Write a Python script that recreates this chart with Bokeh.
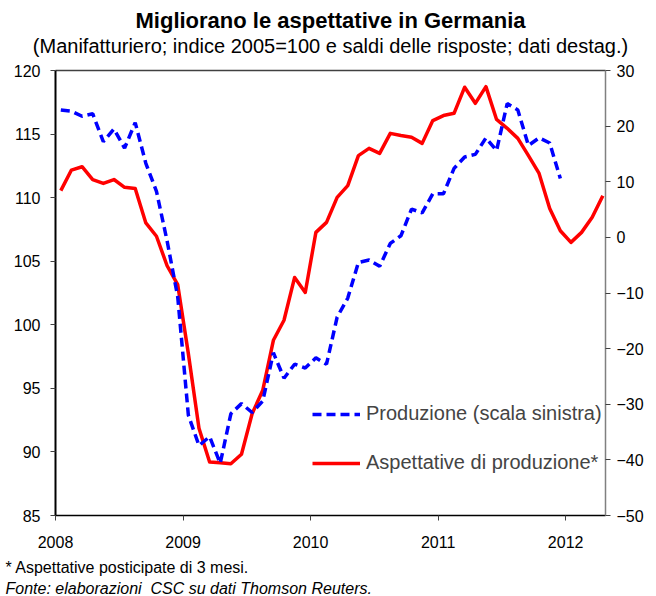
from bokeh.plotting import figure
from bokeh.models import (Range1d, LinearAxis, FixedTicker, Title, Legend,
                          LegendItem, ColumnDataSource)
from bokeh.embed import file_html
from bokeh.resources import INLINE

# ---- data (monthly, Jan 2008 onwards) ----
produzione = [116.9, 116.8, 116.4, 116.6, 114.4, 115.4, 113.9, 115.9, 112.7, 110.5,
              106.6, 102.2, 92.9, 90.5, 91.2, 89.1, 93.0, 93.8, 93.1, 94.0,
              97.8, 95.8, 96.9, 96.6, 97.4, 96.9, 100.6, 102.1, 104.9, 105.1,
              104.6, 106.4, 107.0, 109.1, 108.8, 110.3, 110.3, 112.3, 113.2, 113.4,
              114.7, 113.7, 117.4, 116.9, 114.1, 114.7, 114.3, 111.5]
aspettative = [8.4, 12.1, 12.7, 10.4, 9.7, 10.4, 9.0, 8.8, 2.6, 0.2,
               -5.1, -8.5, -20.9, -34.3, -40.4, -40.5, -40.7, -39.0, -31.7, -27.5,
               -18.5, -14.9, -7.2, -9.9, 0.9, 2.7, 7.2, 9.3, 14.7, 16.0,
               15.1, 18.7, 18.3, 18.0, 16.9, 21.0, 21.9, 22.3, 27.0, 24.1,
               27.1, 21.2, 19.6, 17.8, 14.7, 11.5, 5.2, 1.2, -0.9, 0.9,
               3.6, 7.5]
year_ticks = [0, 12, 24, 36, 48]
year_labels = ["2008", "2009", "2010", "2011", "2012"]
left_ticks = [85, 90, 95, 100, 105, 110, 115, 120]
right_ticks = [-50, -40, -30, -20, -10, 0, 10, 20, 30]

# month positions: mid-month
x_prod = [i + 0.5 for i in range(len(produzione))]
x_asp = [i + 0.5 for i in range(len(aspettative))]

FONT = "Liberation Sans"

p = figure(frame_width=550, frame_height=445,
           x_range=Range1d(0, 51.75), y_range=Range1d(85, 120),
           output_backend="svg", toolbar_location=None,
           min_border_left=55, min_border_right=51,
           min_border_top=70, min_border_bottom=81,
           x_axis_location=None, y_axis_location=None)
p.outline_line_color = None
p.xgrid.visible = False
p.ygrid.visible = False
p.background_fill_color = "white"
p.border_fill_color = "white"

p.extra_y_ranges = {"right": Range1d(-50, 30)}

src_p = ColumnDataSource(dict(x=x_prod, y=produzione))
src_a = ColumnDataSource(dict(x=x_asp, y=aspettative))

r_a = p.line("x", "y", source=src_a, y_range_name="right", line_color="#FF0000",
             line_width=3.5, line_join="round")
r_p = p.line("x", "y", source=src_p, line_color="#0000FF", line_width=3.5,
             line_dash="9 5")

def style_axis(ax, line_color, line_width, standoff):
    ax.axis_line_color = line_color
    ax.axis_line_width = line_width
    ax.major_tick_line_color = "#404040"
    ax.major_tick_line_width = 1
    ax.major_tick_out = 5
    ax.major_tick_in = 0
    ax.minor_tick_line_color = None
    ax.major_label_text_font = FONT
    ax.major_label_text_font_size = "16px"
    ax.major_label_text_color = "black"
    ax.major_label_standoff = standoff

left = LinearAxis(ticker=FixedTicker(ticks=left_ticks))
style_axis(left, "black", 2, 10)
p.add_layout(left, "left")

right = LinearAxis(y_range_name="right", ticker=FixedTicker(ticks=right_ticks))
style_axis(right, "#808080", 1.5, 6)
p.add_layout(right, "right")

bottom = LinearAxis(ticker=FixedTicker(ticks=year_ticks),
                    major_label_overrides={t: l for t, l in zip(year_ticks, year_labels)})
style_axis(bottom, "black", 1.5, 15)
p.add_layout(bottom, "below")

top = LinearAxis(ticker=FixedTicker(ticks=[]))
top.axis_line_color = "#404040"
top.axis_line_width = 1.5
top.major_tick_line_color = None
top.minor_tick_line_color = None
top.major_tick_out = 0
top.major_tick_in = 0
top.major_label_standoff = 0
p.add_layout(top, "above")

# titles (stacked outward from the frame)
p.add_layout(Title(text=" ", text_font=FONT, text_font_size="10.7px", standoff=0), "above")
p.add_layout(Title(text="(Manifatturiero; indice 2005=100 e saldi delle risposte; dati destag.)",
                   align="center", text_font=FONT, text_font_size="20px",
                   text_font_style="normal", text_color="black", standoff=0), "above")
p.add_layout(Title(text="Migliorano le aspettative in Germania", align="center",
                   text_font=FONT, text_font_size="22px", text_font_style="bold",
                   text_color="black", standoff=0), "above")

# footnotes (small spacer first)
p.add_layout(Title(text=" ", text_font=FONT, text_font_size="2.7px", standoff=0), "below")
p.add_layout(Title(text="* Aspettative posticipate di 3 mesi.", align="left", offset=-50,
                   text_font=FONT, text_font_size="16px", text_font_style="normal",
                   text_color="black", standoff=3), "below")
p.add_layout(Title(text="Fonte: elaborazioni\u00a0 CSC su dati Thomson Reuters.", align="left",
                   offset=-50, text_font=FONT, text_font_size="16px",
                   text_font_style="italic", text_color="black", standoff=0), "below")

legend = Legend(items=[LegendItem(label="Produzione (scala sinistra)", renderers=[r_p]),
                       LegendItem(label="Aspettative di produzione*", renderers=[r_a])],
                location=(257, 41), border_line_color=None, background_fill_alpha=0,
                padding=0, margin=0, spacing=26, glyph_width=48, glyph_height=20,
                label_height=20, label_standoff=6, label_text_font=FONT,
                label_text_font_size="20px", label_text_baseline="middle")
p.add_layout(legend)

open("out.html", "w").write(file_html(p, INLINE))
